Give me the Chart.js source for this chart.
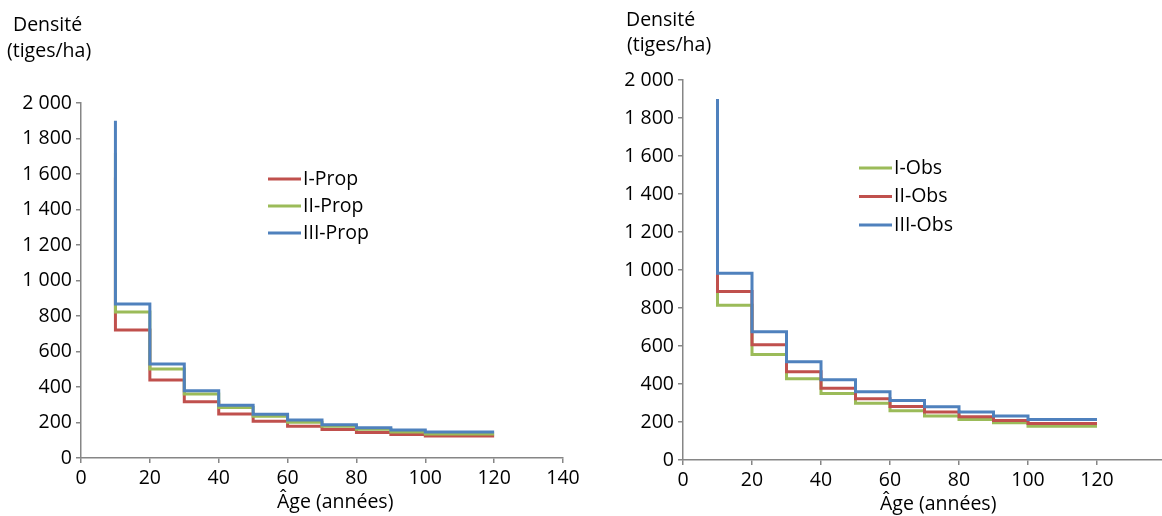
<!DOCTYPE html>
<html>
<head>
<meta charset="utf-8">
<script src="https://cdn.jsdelivr.net/npm/chart.js@4/dist/chart.umd.min.js"></script>
<style>
  body { margin: 0; background: #fff; overflow: hidden; width: 1162px; height: 516px; position: relative; font-family: "Open Sans", sans-serif; }
  .box { position: absolute; top: 0; }
  .txt { position: absolute; font-size: 19.5px; line-height: 24px; color: #000; white-space: nowrap; }
</style>
</head>
<body>
<div class="box" style="left:0"><canvas id="chartProp" width="590" height="516"></canvas></div>
<div class="box" style="left:590px"><canvas id="chartObs" width="590" height="516"></canvas></div>

<div class="txt" style="left:13px;top:12px">Densité</div>
<div class="txt" style="left:7px;top:38px">(tiges/ha)</div>
<div class="txt" style="left:626px;top:7px">Densité</div>
<div class="txt" style="left:627px;top:32px">(tiges/ha)</div>
<div class="txt" style="left:277px;top:489px">Âge (années)</div>
<div class="txt" style="left:880px;top:491px">Âge (années)</div>

<script>
// Age classes (start of each 10-year class, last one runs to 120)
const classStarts = [10, 20, 30, 40, 50, 60, 70, 80, 90, 100];
const lastAge = 120;

// Proposed densities (tiges/ha)
const propI = [721, 439, 317, 248, 207, 179, 160, 143, 133, 124];
const propII = [822, 501, 361, 284, 235, 201, 179, 162, 146, 135];
const propIII = [868, 530, 379, 297, 246, 214, 188, 171, 158, 146];
const propSpike = [1580, 1720, 1900];

// Observed densities (tiges/ha)
const obsI = [815, 555, 427, 350, 299, 259, 232, 213, 196, 178];
const obsII = [887, 606, 464, 378, 322, 282, 252, 227, 208, 192];
const obsIII = [983, 675, 517, 422, 359, 313, 280, 252, 231, 213];
const obsSpike = [1580, 1720, 1900];

const RED = '#C0504D';
const GREEN = '#9BBB59';
const BLUE = '#4F81BD';
const AXIS = '#868686';
const FONT = { family: '"Open Sans", sans-serif', size: 19.5 };

function stepPoints(spike, values) {
  let pts = [{ x: classStarts[0], y: spike }];
  classStarts.forEach((a, i) => pts.push({ x: a, y: values[i] }));
  pts.push({ x: lastAge, y: values[values.length - 1] });
  return pts;
}

function fmt(v) {
  return String(v).replace(/\B(?=(\d{3})+(?!\d))/g, ' ');
}

function dataset(label, color, spike, values, order) {
  return {
    label,
    data: stepPoints(spike, values),
    borderColor: color,
    backgroundColor: color,
    borderWidth: 3,
    pointRadius: 0,
    stepped: true,
    fill: false,
    order,
  };
}

// legend drawn at a fixed place inside the plot
const boxLegend = {
  id: 'boxLegend',
  afterDraw(chart, args, opts) {
    const ctx = chart.ctx;
    ctx.save();
    ctx.font = FONT.size + 'px ' + FONT.family;
    ctx.textBaseline = 'middle';
    opts.items.forEach((idx, i) => {
      const ds = chart.data.datasets[idx];
      const y = opts.y + i * opts.gap;
      ctx.strokeStyle = ds.borderColor;
      ctx.lineWidth = 3;
      ctx.beginPath();
      ctx.moveTo(opts.x, y);
      ctx.lineTo(opts.x + 33, y);
      ctx.stroke();
      ctx.fillStyle = '#000';
      ctx.fillText(ds.label, opts.x + 35, y);
    });
    ctx.restore();
  },
};

function makeChart(id, datasets, yWidth, padding, legend, hideLast) {
  return new Chart(document.getElementById(id), {
    type: 'line',
    data: { datasets },
    plugins: [boxLegend],
    options: {
      responsive: false,
      animation: false,
      layout: { padding },
      plugins: {
        legend: { display: false },
        tooltip: { enabled: false },
        boxLegend: legend,
      },
      scales: {
        x: {
          type: 'linear',
          min: 0,
          max: 140,
          afterFit: (s) => { s.height = 30; },
          ticks: {
            stepSize: 20,
            padding: 4,
            color: '#000',
            font: FONT,
            maxRotation: 0,
            callback: (v) => (hideLast && v === 140 ? '' : v),
          },
          grid: { drawOnChartArea: false, tickLength: 5, color: AXIS, lineWidth: 1.5 },
          border: { color: AXIS, width: 1.5 },
        },
        y: {
          min: 0,
          max: 2000,
          afterFit: (s) => { s.width = yWidth; },
          ticks: { stepSize: 200, padding: 4, color: '#000', font: FONT, callback: (v) => fmt(v) },
          grid: { drawOnChartArea: false, tickLength: 5, color: AXIS, lineWidth: 1.5 },
          border: { color: AXIS, width: 1.5 },
        },
      },
    },
  });
}

makeChart('chartProp', [
  dataset('I-Prop', RED, propSpike[0], propI, 2),
  dataset('II-Prop', GREEN, propSpike[1], propII, 1),
  dataset('III-Prop', BLUE, propSpike[2], propIII, 0),
], 81, { top: 103, right: 27, bottom: 28, left: 0 }, { x: 268, y: 179, gap: 27, items: [0, 1, 2] }, false);

makeChart('chartObs', [
  dataset('I-Obs', GREEN, obsSpike[0], obsI, 2),
  dataset('II-Obs', RED, obsSpike[1], obsII, 1),
  dataset('III-Obs', BLUE, obsSpike[2], obsIII, 0),
], 93, { top: 80, right: 14, bottom: 26, left: 0 }, { x: 269, y: 168, gap: 28.5, items: [0, 1, 2] }, true);
</script>
</body>
</html>
